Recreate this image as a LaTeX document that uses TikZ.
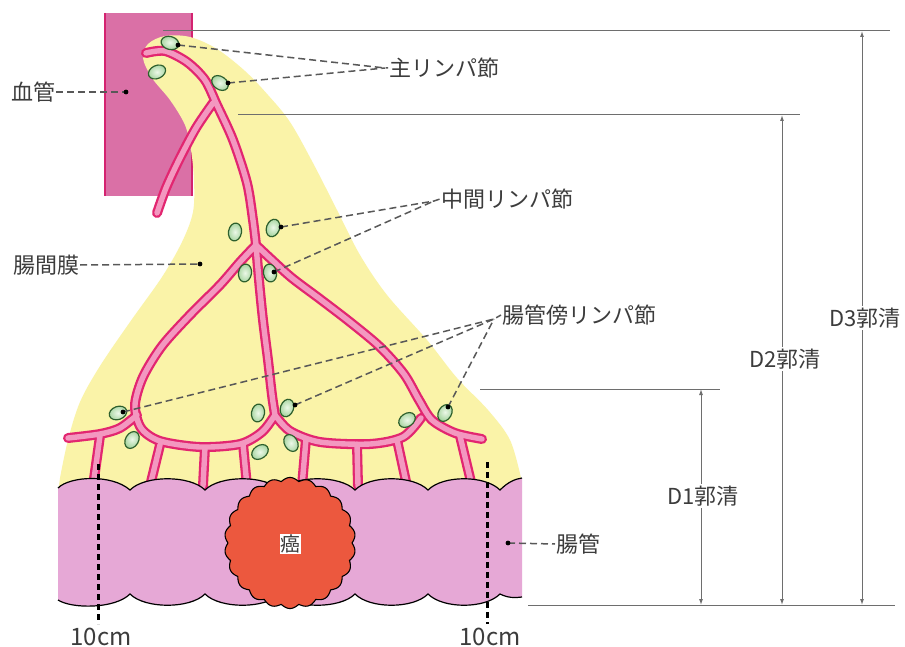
\documentclass[tikz,border=0pt]{standalone}
\usepackage{fontspec}
\newfontfamily\jp{Noto Sans CJK JP}
\usetikzlibrary{shapes.geometric,arrows.meta}
\definecolor{bvpink}{RGB}{218,112,166}
\definecolor{bvedge}{RGB}{212,35,112}
\definecolor{mes}{RGB}{250,243,168}
\definecolor{lyout}{RGB}{226,38,112}
\definecolor{lyin}{RGB}{243,152,192}
\definecolor{gutpink}{RGB}{230,168,214}
\definecolor{tumorc}{RGB}{236,88,62}
\definecolor{nodein}{RGB}{236,248,232}
\definecolor{nodeout}{RGB}{165,212,158}
\definecolor{nodeedge}{RGB}{45,95,45}
\definecolor{txt}{RGB}{60,60,60}
\definecolor{dimc}{RGB}{110,110,110}
\definecolor{leadc}{RGB}{88,88,88}
\newcommand\lymphpaths{%
 plot[smooth] coordinates {(146,53) (165,51) (187,62) (205,80) (217,105) (233,140) (247,183) (253,220) (256,245)}
 plot[smooth] coordinates {(213,103) (196,128) (179,160) (166,188) (157,213)}
 plot[smooth] coordinates {(256,245) (240,262) (220,285) (190,315) (162,346) (143,377) (135,405) (141,428) (160,441) (200,447) (240,444) (262,432) (275,415)}
 plot[smooth] coordinates {(256,245) (259,280) (263,320) (268,360) (272,395) (275,415)}
 plot[smooth] coordinates {(256,245) (272,260) (292,278) (320,299) (350,322) (380,347) (404,374) (419,400) (432,420) (455,433) (482,439)}
 plot[smooth] coordinates {(275,415) (290,431) (320,442) (370,444) (403,437) (421,418)}
 plot[smooth] coordinates {(68,438) (100,434) (120,428) (137,415)}
 (100,436) -- (93,486)
 (160,445) -- (150,486)
 (205,447) -- (203,486)
 (243,444) -- (247,486)
 (306,439) -- (302,486)
 (357,444) -- (358,486)
 (397,440) -- (407,486)
 (460,436) -- (472,486)
}
\begin{document}
\begin{tikzpicture}[x=1pt,y=-1pt,
  lnode/.style={ellipse, draw=nodeedge, line width=1.2pt, shading=radial, inner color=nodein, outer color=nodeout, minimum width=18pt, minimum height=13pt, inner sep=0pt},
  leader/.style={draw=leadc, line width=1.5pt, dash pattern=on 7pt off 4pt},
  lab/.style={font=\jp\fontsize{22}{24}\selectfont, text=txt, inner sep=1pt},
  dimline/.style={draw=dimc, line width=1pt},
  dimarrow/.style={dimline, {Latex[length=6pt,width=4pt]}-{Latex[length=6pt,width=4pt]}},
  dimlab/.style={lab, fill=white, inner sep=2pt},
  vesselout/.style={draw=lyout, line width=10pt, line cap=round, line join=round},
  vesselin/.style={draw=lyin, line width=5.4pt, line cap=round, line join=round},
  cut/.style={draw=black, line width=3pt, dash pattern=on 6pt off 4pt},
  ldot/.style={fill=black}
]
\fill[white] (0,0) rectangle (905,647);
\useasboundingbox (0,0) rectangle (905,647);

% blood vessel
\fill[bvpink] (105,13) rectangle (192,196);
\draw[bvedge, line width=1.4pt] (105,13) -- (105,196) (192,13) -- (192,196);

% mesentery
\fill[mes] plot[smooth, tension=0.55] coordinates {(60,478) (68,440) (80,402) (100,366) (130,322) (162,277) (182,242) (193,212) (194,180) (191,150) (185,125) (170,100) (152,78) (143,58) (148,44) (165,36) (190,37) (217,49) (245,71) (268,95) (290,122) (313,163) (337,210) (360,255) (387,295) (427,340) (457,378) (488,410) (510,440) (521,478)} -- (522,492) -- (58,492) -- cycle;

% lymph vessels
\draw[vesselout] \lymphpaths;
\draw[vesselin] \lymphpaths;

% lymph nodes
\foreach \n/\x/\y/\r in {A1/170/43/-15, A2/157/72/25, A3/220/83/-35,
  B1/235/232/80, B2/273/228/70, B3/245/273/80, B4/270/273/100,
  C1/118/413/20, C2/132/440/60, C3/258/413/80, C4/287/408/70,
  C5/260/452/35, C6/291/443/120, C7/407/420/35, C8/445/413/60}
  \node[lnode, rotate=\r] (\n) at (\x,\y) {};

% intestine
\fill[gutpink] (58,488) .. controls (70,476) and (112,474) .. (130,490)
  .. controls (145,475) and (190,475) .. (205,490)
  .. controls (220,475) and (265,475) .. (280,490)
  .. controls (295,475) and (340,475) .. (355,490)
  .. controls (370,475) and (413,475) .. (428,490)
  .. controls (443,475) and (485,475) .. (500,490)
  .. controls (508,482) and (515,479) .. (522,478)
  -- (522,597)
  .. controls (515,598) and (508,598) .. (500,594)
  .. controls (485,609) and (443,609) .. (428,594)
  .. controls (413,609) and (370,609) .. (355,594)
  .. controls (340,609) and (295,609) .. (280,594)
  .. controls (265,609) and (220,609) .. (205,594)
  .. controls (190,609) and (145,609) .. (130,594)
  .. controls (115,609) and (72,609) .. (58,600) -- cycle;
\draw[black, line width=1.2pt] (58,488) .. controls (70,476) and (112,474) .. (130,490)
  .. controls (145,475) and (190,475) .. (205,490)
  .. controls (220,475) and (265,475) .. (280,490)
  .. controls (295,475) and (340,475) .. (355,490)
  .. controls (370,475) and (413,475) .. (428,490)
  .. controls (443,475) and (485,475) .. (500,490)
  .. controls (508,482) and (515,479) .. (522,478);
\draw[black, line width=1.2pt] (522,597)
  .. controls (515,598) and (508,598) .. (500,594)
  .. controls (485,609) and (443,609) .. (428,594)
  .. controls (413,609) and (370,609) .. (355,594)
  .. controls (340,609) and (295,609) .. (280,594)
  .. controls (265,609) and (220,609) .. (205,594)
  .. controls (190,609) and (145,609) .. (130,594)
  .. controls (115,609) and (72,609) .. (58,600);

% tumour
\filldraw[fill=tumorc, draw=black, line width=1.1pt, line join=round, shift={(290,543)}]
  plot[domain=0:360, samples=441] (\x:{62+3.5*abs(sin(11*\x))}) -- cycle;
\node[font=\jp\fontsize{20}{22}\selectfont, fill=white, inner sep=0.5pt, text=txt] (gan) at (290,544) {癌};

% 10 cm cut lines
\coordinate (cutLa) at (98,464); \coordinate (cutLb) at (98,624);
\coordinate (cutRa) at (487,462); \coordinate (cutRb) at (487,624);
\draw[cut] (cutLa) -- (cutLb);
\draw[cut] (cutRa) -- (cutRb);
\node[lab, font=\jp\fontsize{24}{26}\selectfont] (cmL) at (101,637) {10cm};
\node[lab, font=\jp\fontsize{24}{26}\selectfont] (cmR) at (490,637) {10cm};

% dimension lines
\draw[dimline] (163,31) -- (890,31);
\draw[dimline] (238,115) -- (800,115);
\draw[dimline] (480,389) -- (720,389);
\draw[dimline] (528,605) -- (895,605);
\coordinate (d1t) at (701,389); \coordinate (d1b) at (701,605);
\coordinate (d2t) at (782,115); \coordinate (d2b) at (782,605);
\coordinate (d3t) at (862,31);  \coordinate (d3b) at (862,605);
\draw[dimarrow] (d1t) -- (d1b);
\draw[dimarrow] (d2t) -- (d2b);
\draw[dimarrow] (d3t) -- (d3b);
\node[dimlab] (D1) at (703,496) {D1郭清};
\node[dimlab] (D2) at (785,359) {D2郭清};
\node[dimlab] (D3) at (865,318) {D3郭清};

% labels
\node[lab] (lblood) at (33,92) {血管};
\node[lab] (lmes) at (46,265) {腸間膜};
\node[lab, anchor=west] (lmain) at (388,68) {主リンパ節};
\node[lab, anchor=west] (lmid) at (440,199) {中間リンパ節};
\node[lab, anchor=west] (lpara) at (501,315) {腸管傍リンパ節};
\node[lab, anchor=west] (lgut) at (555,544) {腸管};

% leader end points
\coordinate (pblood) at (126,92);
\coordinate (pmes) at (200,264);
\coordinate (pgut) at (508,543);
\coordinate (pA1) at (178,45);
\coordinate (pA3) at (228,83);
\coordinate (pB2) at (281,227);
\coordinate (pB4) at (274,272);
\coordinate (pC1) at (123,412);
\coordinate (pC4) at (295,405);
\coordinate (pC8) at (448,407);
\coordinate (cmain) at (385,68);
\coordinate (cmid) at (434,201);
\coordinate (cpara) at (494,319);

\draw[leader] (lblood.east) -- (pblood);
\draw[leader] (lmes.east) -- (pmes);
\draw[leader] (pgut) -- (lgut.west);
\draw[leader] (pA1) -- (cmain) -- (lmain.west);
\draw[leader] (pA3) -- (cmain);
\draw[leader] (pB2) -- (cmid) -- (lmid.west);
\draw[leader] (pB4) -- (cmid);
\draw[leader] (pC1) -- (cpara) -- (lpara.west);
\draw[leader] (pC4) -- (cpara);
\draw[leader] (pC8) -- (cpara);
\foreach \p in {pblood,pmes,pgut,pA1,pA3,pB2,pB4,pC1,pC4,pC8}
  \fill[ldot] (\p) circle (2.4);
\end{tikzpicture}
\end{document}
